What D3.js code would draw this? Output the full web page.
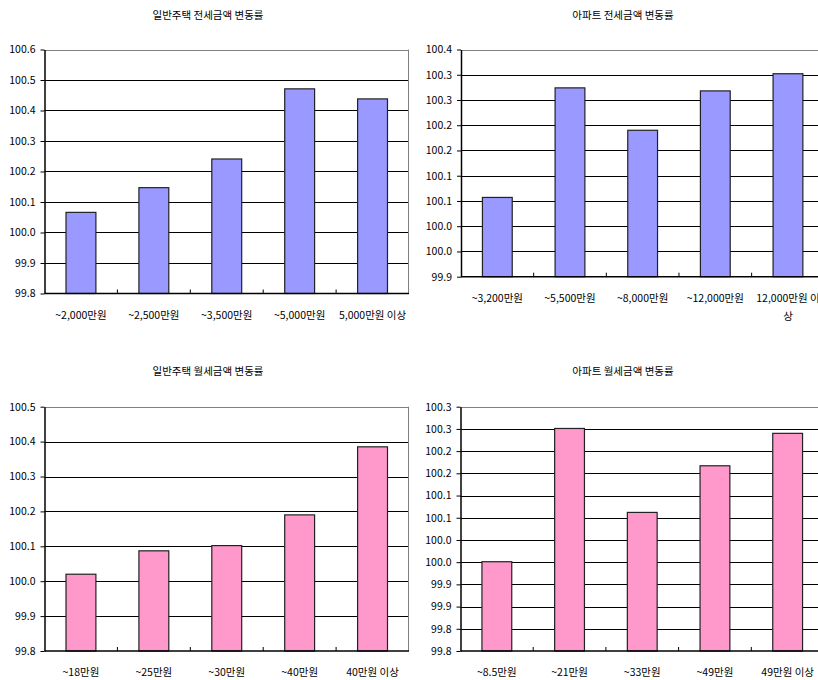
<!DOCTYPE html>
<html>
<head>
<meta charset="utf-8">
<script src="https://cdn.jsdelivr.net/npm/d3@7"></script>
<style>
  html, body { margin: 0; padding: 0; background: #fff; }
  svg { display: block; font-family: "Noto Sans CJK KR", "Noto Sans", sans-serif; }
</style>
</head>
<body>
<svg id="chart" width="818" height="680"></svg>
<script>
// ---------- data ----------
const titles = ["일반주택 전세금액 변동률", "아파트 전세금액 변동률", "일반주택 월세금액 변동률", "아파트 월세금액 변동률"];

const houseJeonseCats = ["~2,000만원", "~2,500만원", "~3,500만원", "~5,000만원", "5,000만원 이상"];
const houseJeonseVals = [100.066, 100.147, 100.241, 100.471, 100.438];
const houseJeonseTicks = [99.8, 99.9, 100.0, 100.1, 100.2, 100.3, 100.4, 100.5, 100.6];
const houseJeonseTickLabels = ["99.8", "99.9", "100.0", "100.1", "100.2", "100.3", "100.4", "100.5", "100.6"];

const aptJeonseCats = ["~3,200만원", "~5,500만원", "~8,000만원", "~12,000만원", "12,000만원 이상"];
const aptJeonseVals = [100.057, 100.274, 100.190, 100.268, 100.302];
const aptJeonseTicks = [99.90, 99.95, 100.00, 100.05, 100.10, 100.15, 100.20, 100.25, 100.30, 100.35];
const aptJeonseTickLabels = ["99.9", "100.0", "100.0", "100.1", "100.1", "100.2", "100.2", "100.3", "100.3", "100.4"];

const houseWolseCats = ["~18만원", "~25만원", "~30만원", "~40만원", "40만원 이상"];
const houseWolseVals = [100.020, 100.087, 100.102, 100.190, 100.385];
const houseWolseTicks = [99.8, 99.9, 100.0, 100.1, 100.2, 100.3, 100.4, 100.5];
const houseWolseTickLabels = ["99.8", "99.9", "100.0", "100.1", "100.2", "100.3", "100.4", "100.5"];

const aptWolseCats = ["~8.5만원", "~21만원", "~33만원", "~49만원", "49만원 이상"];
const aptWolseVals = [99.951, 100.251, 100.062, 100.167, 100.240];
const aptWolseTicks = [99.75, 99.80, 99.85, 99.90, 99.95, 100.00, 100.05, 100.10, 100.15, 100.20, 100.25, 100.30];
const aptWolseTickLabels = ["99.8", "99.8", "99.9", "99.9", "100.0", "100.0", "100.1", "100.1", "100.2", "100.2", "100.3", "100.3"];

const blue = "#9999FF";
const pink = "#FF99CC";

// ---------- panels ----------
const panels = [
  { title: titles[0], cats: houseJeonseCats, vals: houseJeonseVals, ticks: houseJeonseTicks, labels: houseJeonseTickLabels,
    color: blue, x0: 44.5, x1: 409, y0: 49.5, y1: 293.5, titleX: 208, titleY: 14, wrap: 200 },
  { title: titles[1], cats: aptJeonseCats, vals: aptJeonseVals, ticks: aptJeonseTicks, labels: aptJeonseTickLabels,
    color: blue, x0: 461, x1: 824.3, y0: 49.5, y1: 276.7, titleX: 623, titleY: 14, wrap: 66 },
  { title: titles[2], cats: houseWolseCats, vals: houseWolseVals, ticks: houseWolseTicks, labels: houseWolseTickLabels,
    color: pink, x0: 44.5, x1: 409, y0: 406.7, y1: 651, titleX: 208, titleY: 370, wrap: 200 },
  { title: titles[3], cats: aptWolseCats, vals: aptWolseVals, ticks: aptWolseTicks, labels: aptWolseTickLabels,
    color: pink, x0: 460.5, x1: 824, y0: 406.7, y1: 651, titleX: 623, titleY: 370, wrap: 200 }
];

const svg = d3.select("#chart");
const FS = 10.5;

panels.forEach(p => {
  const g = svg.append("g");
  const x = d3.scaleBand().domain(p.cats).range([p.x0, p.x1]).paddingInner(0.59).paddingOuter(0.295);
  const y = d3.scaleLinear().domain([p.ticks[0], p.ticks[p.ticks.length - 1]]).range([p.y1, p.y0]);
  const step = x.step();

  // title
  g.append("text").attr("x", p.titleX).attr("y", p.titleY).attr("text-anchor", "middle")
    .attr("dominant-baseline", "central").attr("font-size", FS).attr("fill", "#000").text(p.title);

  // gridlines (black) excluding bottom and top
  g.selectAll("line.grid").data(p.ticks.slice(1, -1)).join("line").attr("class", "grid")
    .attr("x1", p.x0).attr("x2", p.x1).attr("y1", d => Math.round(y(d)) + 0.5).attr("y2", d => Math.round(y(d)) + 0.5)
    .attr("stroke", "#000").attr("stroke-width", 1);

  // plot border top/right (grey)
  g.append("line").attr("x1", p.x0).attr("x2", p.x1).attr("y1", Math.round(y(p.ticks[p.ticks.length - 1])) + 0.5)
    .attr("y2", Math.round(y(p.ticks[p.ticks.length - 1])) + 0.5).attr("stroke", "#808080").attr("stroke-width", 1);
  g.append("line").attr("x1", Math.round(p.x1) - 0.5).attr("x2", Math.round(p.x1) - 0.5).attr("y1", p.y0).attr("y2", p.y1)
    .attr("stroke", "#808080").attr("stroke-width", 1);

  // bars
  g.selectAll("rect.bar").data(p.vals).join("rect").attr("class", "bar")
    .attr("x", (d, i) => x(p.cats[i]))
    .attr("width", x.bandwidth())
    .attr("y", d => y(d))
    .attr("height", d => y(p.ticks[0]) - y(d))
    .attr("fill", p.color).attr("stroke", "#222").attr("stroke-width", 1.2);

  // y axis
  const yAxis = d3.axisLeft(y).tickValues(p.ticks).tickFormat((d, i) => p.labels[i]).tickSizeInner(4).tickSizeOuter(0).tickPadding(5);
  const ya = g.append("g").attr("transform", `translate(${p.x0},0)`).call(yAxis);
  ya.select(".domain").attr("stroke", "#000").attr("stroke-width", 1.5);
  ya.selectAll(".tick line").attr("stroke", "#000");
  ya.selectAll(".tick text").attr("font-size", FS).attr("font-family", "'Noto Sans CJK KR', sans-serif").attr("fill", "#000");

  // x axis line
  g.append("line").attr("x1", p.x0).attr("x2", p.x1).attr("y1", p.y1).attr("y2", p.y1)
    .attr("stroke", "#000").attr("stroke-width", 1.5);
  // category separator ticks (inside, upward)
  g.selectAll("line.ctick").data(p.cats.slice(1)).join("line").attr("class", "ctick")
    .attr("x1", d => x(d) - x.bandwidth() * 0 - (step - x.bandwidth()) / 2)
    .attr("x2", d => x(d) - (step - x.bandwidth()) / 2)
    .attr("y1", p.y1).attr("y2", p.y1 - 4).attr("stroke", "#000").attr("stroke-width", 1);

  // x labels with character wrapping
  p.cats.forEach((c, i) => {
    const cx = x(c) + x.bandwidth() / 2;
    const t = g.append("text").attr("x", cx).attr("y", p.y1 + 20).attr("text-anchor", "middle")
      .attr("dominant-baseline", "central").attr("font-size", FS).attr("fill", "#000");
    const chars = Array.from(c);
    let line = "";
    let tspan = t.append("tspan").attr("x", cx).attr("dy", 0);
    let lineNo = 0;
    chars.forEach(ch => {
      const test = line + ch;
      tspan.text(test);
      if (tspan.node().getComputedTextLength() > p.wrap && line.length > 0) {
        tspan.text(line);
        line = ch;
        lineNo++;
        tspan = t.append("tspan").attr("x", cx).attr("dy", 18).text(ch);
      } else {
        line = test;
      }
    });
  });
});
</script>
</body>
</html>
